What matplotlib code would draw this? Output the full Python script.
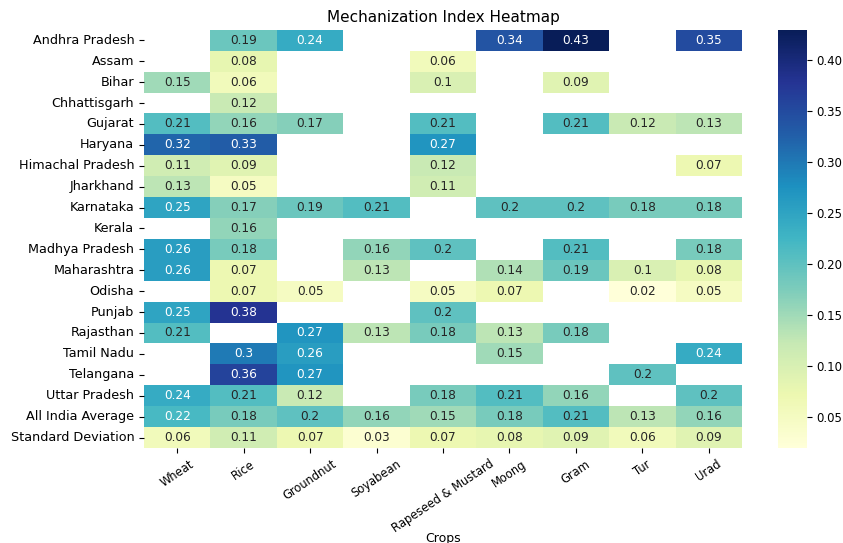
import numpy as np
import pandas as pd
import seaborn as sns
import matplotlib
matplotlib.use("Agg")
import matplotlib.pyplot as plt

nan = np.nan

crops = ["Wheat", "Rice", "Groundnut", "Soyabean", "Rapeseed & Mustard",
         "Moong", "Gram", "Tur", "Urad"]

states = ["Andhra Pradesh", "Assam", "Bihar", "Chhattisgarh", "Gujarat",
          "Haryana", "Himachal Pradesh", "Jharkhand", "Karnataka", "Kerala",
          "Madhya Pradesh", "Maharashtra", "Odisha", "Punjab", "Rajasthan",
          "Tamil Nadu", "Telangana", "Uttar Pradesh", "All India Average",
          "Standard Deviation"]

# mechanization index per state, one list per crop column order above
andhra_pradesh = [nan, 0.19, 0.24, nan, nan, 0.34, 0.43, nan, 0.35]
assam = [nan, 0.08, nan, nan, 0.06, nan, nan, nan, nan]
bihar = [0.15, 0.06, nan, nan, 0.10, nan, 0.09, nan, nan]
chhattisgarh = [nan, 0.12, nan, nan, nan, nan, nan, nan, nan]
gujarat = [0.21, 0.16, 0.17, nan, 0.21, nan, 0.21, 0.12, 0.13]
haryana = [0.32, 0.33, nan, nan, 0.27, nan, nan, nan, nan]
himachal_pradesh = [0.11, 0.09, nan, nan, 0.12, nan, nan, nan, 0.07]
jharkhand = [0.13, 0.05, nan, nan, 0.11, nan, nan, nan, nan]
karnataka = [0.25, 0.17, 0.19, 0.21, nan, 0.20, 0.20, 0.18, 0.18]
kerala = [nan, 0.16, nan, nan, nan, nan, nan, nan, nan]
madhya_pradesh = [0.26, 0.18, nan, 0.16, 0.20, nan, 0.21, nan, 0.18]
maharashtra = [0.26, 0.07, nan, 0.13, nan, 0.14, 0.19, 0.10, 0.08]
odisha = [nan, 0.07, 0.05, nan, 0.05, 0.07, nan, 0.02, 0.05]
punjab = [0.25, 0.38, nan, nan, 0.20, nan, nan, nan, nan]
rajasthan = [0.21, nan, 0.27, 0.13, 0.18, 0.13, 0.18, nan, nan]
tamil_nadu = [nan, 0.30, 0.26, nan, nan, 0.15, nan, nan, 0.24]
telangana = [nan, 0.36, 0.27, nan, nan, nan, nan, 0.20, nan]
uttar_pradesh = [0.24, 0.21, 0.12, nan, 0.18, 0.21, 0.16, nan, 0.20]
all_india_average = [0.22, 0.18, 0.20, 0.16, 0.15, 0.18, 0.21, 0.13, 0.16]
standard_deviation = [0.06, 0.11, 0.07, 0.03, 0.07, 0.08, 0.09, 0.06, 0.09]

rows = [andhra_pradesh, assam, bihar, chhattisgarh, gujarat, haryana,
        himachal_pradesh, jharkhand, karnataka, kerala, madhya_pradesh,
        maharashtra, odisha, punjab, rajasthan, tamil_nadu, telangana,
        uttar_pradesh, all_india_average, standard_deviation]

df = pd.DataFrame(rows, index=states, columns=crops)

fig = plt.figure(figsize=(8.43, 5.43), dpi=100)
ax = fig.add_axes([0.1708, 0.175, 0.7094, 0.770])
cax = fig.add_axes([0.923, 0.175, 0.034, 0.770])

sns.heatmap(df, annot=True, cmap="YlGnBu", ax=ax, cbar_ax=cax,
            annot_kws={"fontsize": 8.7})

ax.set_title("Mechanization Index Heatmap", fontsize=11)
ax.set_xlabel("Crops", fontsize=9)
ax.xaxis.set_label_coords(0.5, -0.20)
ax.set_ylabel("")
ax.tick_params(axis="y", labelsize=9.2)
ax.tick_params(axis="x", labelsize=8.3)
plt.setp(ax.get_xticklabels(), rotation=34, ha="center")
plt.setp(ax.get_yticklabels(), rotation=0)
cax.tick_params(labelsize=8.5)

fig.savefig("out.png", dpi=100)
